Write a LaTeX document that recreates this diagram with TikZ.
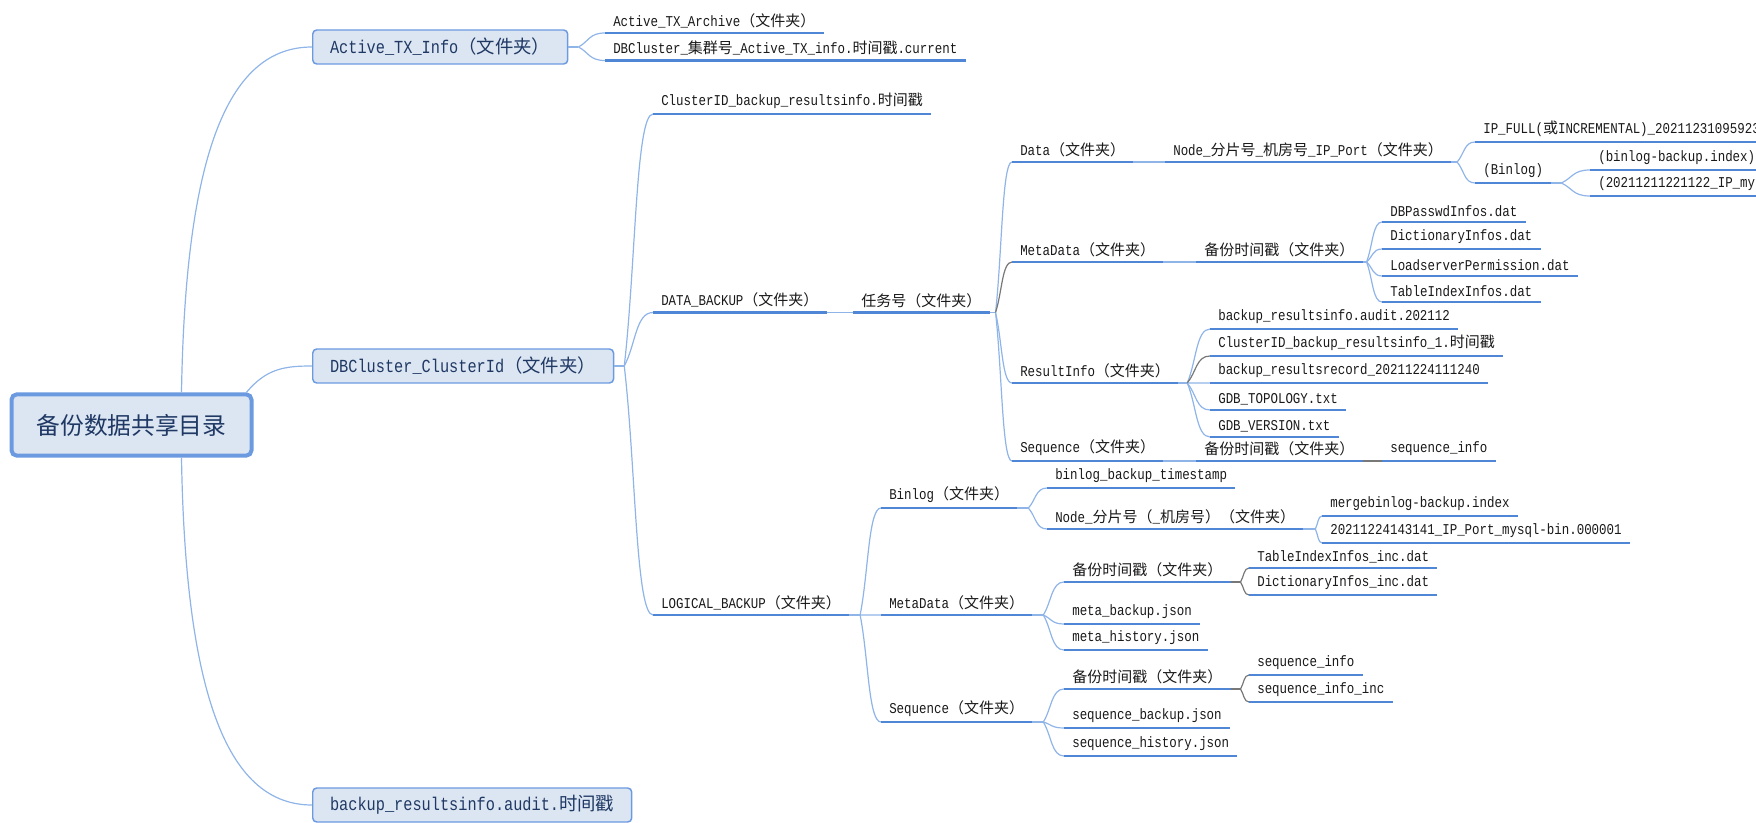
\documentclass[tikz,border=0pt]{standalone}
\usepackage{fontspec}
\setmonofont[FakeStretch=0.83]{Liberation Mono}
\newfontfamily\cjk{Noto Sans CJK SC}
\usetikzlibrary{positioning, calc}

\definecolor{MapBlue}{RGB}{79,134,214}
\definecolor{MapLine}{RGB}{143,180,232}
\definecolor{MapGray}{RGB}{120,120,120}
\definecolor{MapFill}{RGB}{220,230,242}
\definecolor{MapBorder}{RGB}{108,154,224}
\definecolor{MapText}{RGB}{31,56,100}

\newcommand{\zh}[1]{{\cjk #1}}
\newcommand{\wjj}{\zh{（文件夹）}}

\begin{document}
\begin{tikzpicture}[
  x=0.75pt, y=-0.75pt,
  rootbox/.style={rectangle, rounded corners=4pt, draw=MapBorder, fill=MapFill, line width=3pt, minimum width=180pt, minimum height=46pt, font=\cjk\fontsize{17.8pt}{20pt}\selectfont, text=MapText},
  topbox/.style={rectangle, rounded corners=3pt, draw=MapBorder, fill=MapFill, line width=1.1pt, minimum height=25.5pt, inner xsep=13pt, anchor=west, font=\ttfamily\fontsize{13.8pt}{16pt}\selectfont, text=MapText},
  leaf/.style={anchor=south west, inner xsep=6pt, inner ysep=3.5pt, font=\ttfamily\fontsize{11.25pt}{13pt}\selectfont, text=black!90},
  uline/.style={MapBlue, line width=2.2pt},
  link/.style={MapLine, line width=0.9pt},
  glink/.style={MapGray, line width=0.9pt},
  branch/.style={to path={.. controls ($(\tikztostart)!0.4!(\tikztotarget)$) and ($(\tikztotarget)!0.6!(\tikztostart |- \tikztotarget)$) .. (\tikztotarget)}}
]
\clip (0,0) rectangle (1756,823);

% Root and first level
\node[rootbox] (root) at (131.5,425) {备份数据共享目录};
\node[topbox] (active) at (312,47) {Active\_TX\_Info\wjj};
\node[topbox] (cluster) at (312,366) {DBCluster\_ClusterId\wjj};
\node[topbox] (audit) at (312,805) {backup\_resultsinfo.audit.\zh{时间戳}};

% Active_TX_Info
\node[leaf] (archive) at (605,33) {Active\_TX\_Archive\wjj};
\node[leaf] (current) at (605,60.5) {DBCluster\_\zh{集群号}\_Active\_TX\_info.\zh{时间戳}.current};

% DBCluster_ClusterId
\node[leaf] (resinfo) at (653,114) {ClusterID\_backup\_resultsinfo.\zh{时间戳}};
\node[leaf] (databk) at (653,312.5) {DATA\_BACKUP\wjj};
\node[leaf] (logicbk) at (653,615) {LOGICAL\_BACKUP\wjj};

% DATA_BACKUP
\node[leaf] (task) at (853,312.5) {\zh{任务号}\wjj};
\node[leaf] (data) at (1012,162) {Data\wjj};
\node[leaf] (dmeta) at (1012,262) {MetaData\wjj};
\node[leaf] (dresult) at (1012,383) {ResultInfo\wjj};
\node[leaf] (dseq) at (1012,461) {Sequence\wjj};

\node[leaf] (dnode) at (1165,162) {Node\_\zh{分片号}\_\zh{机房号}\_IP\_Port\wjj};
\node[leaf] (ipfull) at (1475,142) {IP\_FULL(\zh{或}INCREMENTAL)\_20211231095923};
\node[leaf] (dbinlog) at (1475,183) {(Binlog)};
\node[leaf] (bindex) at (1590,170) {(binlog-backup.index)};
\node[leaf] (bfile) at (1590,196) {(20211211221122\_IP\_mysql-bin)};

\node[leaf] (dmetats) at (1196,262) {\zh{备份时间戳}\wjj};
\node[leaf] (passwd) at (1382,222) {DBPasswdInfos.dat};
\node[leaf] (dict) at (1382,249) {DictionaryInfos.dat};
\node[leaf] (perm) at (1382,276) {LoadserverPermission.dat};
\node[leaf] (tblidx) at (1382,302) {TableIndexInfos.dat};

\node[leaf] (audit2) at (1210,329) {backup\_resultsinfo.audit.202112};
\node[leaf] (resinfo1) at (1210,356) {ClusterID\_backup\_resultsinfo\_1.\zh{时间戳}};
\node[leaf] (record) at (1210,383) {backup\_resultsrecord\_20211224111240};
\node[leaf] (topo) at (1210,410) {GDB\_TOPOLOGY.txt};
\node[leaf] (version) at (1210,437) {GDB\_VERSION.txt};

\node[leaf] (dseqts) at (1196,461) {\zh{备份时间戳}\wjj};
\node[leaf] (dseqinfo) at (1382,461) {sequence\_info};

% LOGICAL_BACKUP
\node[leaf] (lbinlog) at (881,508) {Binlog\wjj};
\node[leaf] (lmeta) at (881,615) {MetaData\wjj};
\node[leaf] (lseq) at (881,722) {Sequence\wjj};

\node[leaf] (bts) at (1047,488) {binlog\_backup\_timestamp};
\node[leaf] (lnode) at (1047,529) {Node\_\zh{分片号}\zh{（}\_\zh{机房号）}\wjj};
\node[leaf] (merge) at (1322,516) {mergebinlog-backup.index};
\node[leaf] (binfile) at (1322,543) {20211224143141\_IP\_Port\_mysql-bin.000001};

\node[leaf] (lmetats) at (1064,582) {\zh{备份时间戳}\wjj};
\node[leaf] (metabk) at (1064,624) {meta\_backup.json};
\node[leaf] (metahis) at (1064,650) {meta\_history.json};
\node[leaf] (tblinc) at (1249,568) {TableIndexInfos\_inc.dat};
\node[leaf] (dictinc) at (1249,595) {DictionaryInfos\_inc.dat};

\node[leaf] (lseqts) at (1064,689) {\zh{备份时间戳}\wjj};
\node[leaf] (seqbk) at (1064,728) {sequence\_backup.json};
\node[leaf] (seqhis) at (1064,756) {sequence\_history.json};
\node[leaf] (seqinfo) at (1249,675) {sequence\_info};
\node[leaf] (seqinc) at (1249,702) {sequence\_info\_inc};

% Root links
\draw[link] ($(root.north)+(50,0)$) .. controls +(4,-244) and +(-82,0) .. (active.west);
\draw[link] ($(root.north east)+(-7,0)$) .. controls +(20,-24) and +(-27,0) .. (cluster.west);
\draw[link] ($(root.south)+(50,0)$) .. controls +(4,244) and +(-82,0) .. (audit.west);

% Forks
\draw[link] (active.east) -- ++(10,0) coordinate (f-active);
\foreach \c in {archive,current}
  \draw[link, branch] (f-active) to (\c.south west);
\draw[link] (cluster.east) -- ++(10,0) coordinate (f-cluster);
\foreach \c in {resinfo,databk,logicbk}
  \draw[link, branch] (f-cluster) to (\c.south west);
\draw[link] (databk.south east) -- (task.south west);
\draw[link] (task.south east) -- ++(6,0) coordinate (f-task);
\foreach \c in {data,dresult,dseq}
  \draw[link, branch] (f-task) to (\c.south west);
\draw[glink, branch] (f-task) to (dmeta.south west);
\draw[link] (data.south east) -- (dnode.south west);
\draw[link] (dnode.south east) -- ++(6,0) coordinate (f-dnode);
\foreach \c in {ipfull,dbinlog}
  \draw[link, branch] (f-dnode) to (\c.south west);
\draw[link] (dbinlog.south east) -- ++(10,0) coordinate (f-dbinlog);
\foreach \c in {bindex,bfile}
  \draw[link, branch] (f-dbinlog) to (\c.south west);
\draw[link] (dmeta.south east) -- (dmetats.south west);
\draw[link] (dmetats.south east) -- ++(4,0) coordinate (f-dmetats);
\foreach \c in {passwd,dict,perm,tblidx}
  \draw[link, branch] (f-dmetats) to (\c.south west);
\draw[link] (dresult.south east) -- ++(9,0) coordinate (f-dresult);
\foreach \c in {audit2,record,topo,version}
  \draw[link, branch] (f-dresult) to (\c.south west);
\draw[glink, branch] (f-dresult) to (resinfo1.south west);
\draw[link] (dseq.south east) -- (dseqts.south west);
\draw[glink] (dseqts.south east) -- (dseqinfo.south west);

\draw[link] (logicbk.south east) -- ++(11,0) coordinate (f-logicbk);
\foreach \c in {lbinlog,lmeta,lseq}
  \draw[link, branch] (f-logicbk) to (\c.south west);
\draw[link] (lbinlog.south east) -- ++(11,0) coordinate (f-lbinlog);
\foreach \c in {bts,lnode}
  \draw[link, branch] (f-lbinlog) to (\c.south west);
\draw[link] (lnode.south east) -- ++(12,0) coordinate (f-lnode);
\foreach \c in {merge,binfile}
  \draw[link, branch] (f-lnode) to (\c.south west);
\draw[link] (lmeta.south east) -- ++(11,0) coordinate (f-lmeta);
\foreach \c in {lmetats,metabk,metahis}
  \draw[link, branch] (f-lmeta) to (\c.south west);
\draw[glink] (lmetats.south east) -- ++(10,0) coordinate (f-lmetats);
\foreach \c in {tblinc,dictinc}
  \draw[glink, branch] (f-lmetats) to (\c.south west);
\draw[link] (lseq.south east) -- ++(11,0) coordinate (f-lseq);
\foreach \c in {lseqts,seqbk,seqhis}
  \draw[link, branch] (f-lseq) to (\c.south west);
\draw[glink] (lseqts.south east) -- ++(10,0) coordinate (f-lseqts);
\foreach \c in {seqinfo,seqinc}
  \draw[glink, branch] (f-lseqts) to (\c.south west);

% Underlines
\foreach \n in {archive,current,resinfo,databk,logicbk,task,data,dmeta,dresult,dseq,
  dnode,ipfull,dbinlog,bindex,bfile,dmetats,passwd,dict,perm,tblidx,
  audit2,resinfo1,record,topo,version,dseqts,dseqinfo,
  lbinlog,lmeta,lseq,bts,lnode,merge,binfile,lmetats,metabk,metahis,tblinc,dictinc,
  lseqts,seqbk,seqhis,seqinfo,seqinc}
  \draw[uline] (\n.south west) -- (\n.south east);

\end{tikzpicture}
\end{document}
